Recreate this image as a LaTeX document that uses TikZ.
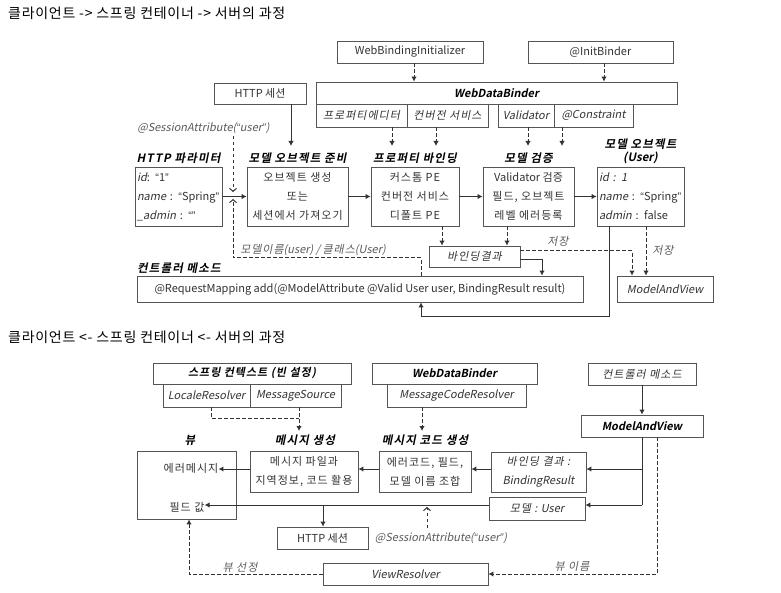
\documentclass[tikz,border=0pt]{standalone}
\usepackage{fontspec}
\setmainfont{Noto Sans CJK KR}[ItalicFont={Noto Sans CJK KR}, ItalicFeatures={FakeSlant=0.2}, BoldFont={Noto Sans CJK KR Bold}, BoldItalicFont={Noto Sans CJK KR Bold}, BoldItalicFeatures={FakeSlant=0.2}]
\newfontfamily\qf{Liberation Sans}
\newcommand\oq{{\qf “}}
\newcommand\cq{{\qf ”}}
\newcommand\ks{\addfontfeature{LetterSpace=9}}
\usetikzlibrary{arrows.meta}
\definecolor{bx}{HTML}{555555}
\definecolor{tx}{HTML}{333333}
\definecolor{lb}{HTML}{5A5A5A}
\newcommand\bodyf{\fontsize{11}{19}\selectfont}
\tikzset{
 box/.style={draw=bx, line width=0.8pt, fill=white, inner sep=0pt, text=tx, font=\bodyf, align=center},
 krbox/.style={box, font=\bodyf\ks},
 itbox/.style={box, font=\bodyf\itshape},
 kritbox/.style={box, font=\bodyf\itshape\ks},
 bibox/.style={box, font=\bodyf\bfseries\itshape, text=black},
 lbl/.style={font=\fontsize{11.5}{19}\selectfont\bfseries\itshape\addfontfeature{LetterSpace=10}, text=black, inner sep=0pt},
 note/.style={font=\bodyf\itshape, text=lb, inner sep=0pt},
 krnote/.style={font=\bodyf\itshape\ks, text=lb, inner sep=0pt},
 plain/.style={font=\bodyf\ks, text=tx, inner sep=0pt},
 ttl/.style={font=\fontsize{14}{16}\selectfont\addfontfeature{LetterSpace=5}, text=black, inner sep=0pt, anchor=west},
 conn/.style={draw=tx, line width=1pt},
 arr/.style={conn, -{Latex[length=5pt,width=5.5pt]}},
 darr/.style={arr, dash pattern=on 3.5pt off 2.5pt},
 dline/.style={conn, dash pattern=on 3.5pt off 2.5pt},
 oarr/.style={conn, dash pattern=on 3.5pt off 2.5pt, -{Straight Barb[length=3pt,width=7pt]}},
}
\begin{document}
\begin{tikzpicture}[x=1pt,y=-1pt]
\useasboundingbox (0,0) rectangle (781,593);
% ---------- titles
\node[ttl] (t1) at (8,13) {클라이언트 -> 스프링 컨테이너 -> 서버의 과정};
\node[ttl] (t2) at (8,337) {클라이언트 <- 스프링 컨테이너 <- 서버의 과정};
% ---------- top diagram boxes
\node[box,minimum width=146pt,minimum height=22pt] (wbi) at (410,52) {WebBindingInitializer};
\node[box,minimum width=145pt,minimum height=22pt] (ib) at (600.5,52) {@InitBinder};
\node[bibox,minimum width=361pt,minimum height=22pt] (wdb) at (496.5,93) {WebDataBinder};
\node[kritbox,minimum width=91pt,minimum height=23pt] (pe) at (361.5,115.5) {프로퍼티에디터};
\node[kritbox,minimum width=81pt,minimum height=23pt] (cs) at (447.5,115.5) {컨버전 서비스};
\node[itbox,minimum width=56pt,minimum height=23pt] (val) at (526,115.5) {Validator};
\node[itbox,minimum width=79pt,minimum height=23pt] (cons) at (593.5,115.5) {@Constraint};
\node[box,minimum width=92pt,minimum height=21pt] (http1) at (260,93.5) {HTTP 세션};
\node[note] (sa1) at (203.5,128) {@SessionAttribute(\oq user\cq)};

\node[lbl] (lparam) at (178.5,158) {HTTP 파라미터};
\node[lbl] (lprep) at (297.5,158) {모델 오브젝트 준비};
\node[lbl] (lbind) at (415,158) {프로퍼티 바인딩};
\node[lbl] (lvalid) at (528.5,158) {모델 검증};
\node[lbl,align=center,font=\fontsize{11.5}{13}\selectfont\bfseries\itshape] (luser) at (640.5,151.5) {{\addfontfeature{LetterSpace=10}모델 오브젝트}\\(User)};

\node[box,minimum width=87pt,minimum height=59pt,align=left,text width=83pt] (param) at (178.5,196.5) {\textit{id}: \oq 1\cq\\\textit{name} : \oq Spring\cq\\\textit{\_admin} : \oq\cq};
\node[krbox,minimum width=101pt,minimum height=59pt] (prep) at (297.5,196.5) {오브젝트 생성\\또는\\세션에서 가져오기};
\node[krbox,minimum width=88pt,minimum height=59pt] (bind) at (415,196.5) {커스톰 PE\\컨버전 서비스\\디폴트 PE};
\node[box,minimum width=91pt,minimum height=59pt] (valid) at (528.5,196.5) {Validator 검증\\{\ks 필드, 오브젝트}\\{\ks 레벨 에러등록}};
\node[box,minimum width=87pt,minimum height=59pt,align=left,text width=83pt] (user) at (640.5,196.5) {\textit{id : 1}\\\textit{name} : \oq Spring\cq\\\textit{admin} : false};

\node[kritbox,minimum width=91pt,minimum height=21pt] (br) at (474.5,256.5) {바인딩결과};
\node[note] (mn) at (313,250) {{\ks 모델이름}(user) / {\ks 클래스}(User)};
\node[krnote] (st1) at (558,241) {저장};
\node[krnote] (st2) at (663,250) {저장};
\node[lbl,anchor=west] (lctrl) at (137,268) {컨트롤러 메소드};
\node[box,minimum width=446pt,minimum height=26pt] (ctrl) at (360,289) {@RequestMapping add(@ModelAttribute @Valid User user, BindingResult result)};
\node[itbox,minimum width=96pt,minimum height=26pt] (mav) at (665,289) {ModelAndView};

% ---------- top connectors
\draw[darr] (wbi.south -| 414,0) -- (wdb.north -| 414,0);
\draw[darr] (ib.south -| 604,0) -- (wdb.north -| 604,0);
\draw[darr] (pe.south -| 392,0) -- (392,146);
\draw[darr] (cs.south -| 436,0) -- (436,146);
\draw[darr] (val.south -| 528,0) -- (528,146);
\draw[darr] (cons.south -| 562,0) -- (562,146);
\draw[arr] (http1.south -| 291,0) -- (291,146);
\draw[oarr] (233,136) -- (233,192);
\draw[oarr] (ctrl.north -| 421,0) |- (233,258) -- (233,199);
\draw[arr] (param.east) -- (prep.west);
\draw[arr] (prep.east) -- (bind.west);
\draw[arr] (bind.east) -- (valid.west);
\draw[arr] (valid.east) -- (user.west);
\draw[darr] (bind.south -| 442,0) -- (br.north -| 442,0);
\draw[darr] (valid.south -| 507,0) -- (br.north -| 507,0);
\draw[arr] (br.east |- 0,260) -| (ctrl.north -| 542,0);
\draw[darr] (br.east |- 0,251) -| (mav.north -| 632,0);
\draw[darr] (user.south -| 646,0) -- (mav.north -| 646,0);
\draw[arr] (user.south -| 609,0) -- (609,317) -| (ctrl.south -| 421,0);

% ---------- bottom diagram boxes
\node[bibox,minimum width=198pt,minimum height=21pt,font=\bodyf\bfseries\itshape\ks] (ctx) at (252,373.5) {스프링 컨텍스트 (빈 설정)};
\node[itbox,minimum width=87pt,minimum height=23pt] (lr) at (206.5,395.5) {LocaleResolver};
\node[itbox,minimum width=91pt,minimum height=23pt] (ms) at (295.5,395.5) {MessageSource};
\node[bibox,minimum width=165pt,minimum height=21pt] (wdb2) at (454.5,373.5) {WebDataBinder};
\node[itbox,minimum width=139pt,minimum height=23pt] (mcr) at (456.5,395.5) {MessageCodeResolver};
\node[kritbox,minimum width=108pt,minimum height=22pt] (cm) at (642,374) {컨트롤러 메소드};
\node[bibox,minimum width=122pt,minimum height=22pt] (mav2) at (642,426) {ModelAndView};

\node[lbl] (lview) at (190,440) {뷰};
\node[lbl] (lmg) at (305,440) {메시지 생성};
\node[lbl] (lmcg) at (425,440) {메시지 코드 생성};

\node[itbox,minimum width=95pt,minimum height=40pt] (brs) at (538.5,472) {{\ks 바인딩 결과 :}\\BindingResult};
\node[itbox,minimum width=96pt,minimum height=23pt] (mu) at (537,508.5) {{\ks 모델 :} User};
\node[krbox,minimum width=92pt,minimum height=41pt] (mcg) at (425,471.5) {에러코드, 필드,\\모델 이름 조합};
\node[krbox,minimum width=108pt,minimum height=41pt] (mg) at (304,471.5) {메시지 파일과\\지역정보, 코드 활용};
\node[box,minimum width=99pt,minimum height=68pt] (view) at (186.5,485) {};
\node[plain] (em) at (191,468) {에러메시지};
\node[plain] (fv) at (187,507) {필드 값};
\node[box,minimum width=91pt,minimum height=22pt] (http2) at (322.5,538) {HTTP 세션};
\node[note] (sa2) at (441,538) {@SessionAttribute(\oq user\cq)};
\node[itbox,minimum width=165pt,minimum height=22pt] (vr) at (405.5,574) {ViewResolver};
\node[krnote] (vs) at (240,567) {뷰 선정};
\node[krnote] (vn) at (572,566) {뷰 이름};

% ---------- bottom connectors
\draw[dline] (lr.south -| 211,0) |- (299,418);
\draw[darr] (ms.south -| 299,0) -- (299,431);
\draw[darr] (mcr.south -| 422,0) -- (422,431);
\draw[arr] (cm.south) -- (mav2.north);
\draw[conn] (mav2.south) -- (642,505);
\draw[arr] (642,469) -- (brs.east |- 0,469);
\draw[arr] (642,505) -- (mu.east |- 0,505);
\draw[darr] (mav2.south -| 657,0) |- (vr.east);
\draw[arr] (brs.west |- 0,469) -- (mcg.east |- 0,469);
\draw[arr] (mcg.west |- 0,469) -- (mg.east |- 0,469);
\draw[arr] (mg.west |- 0,469) -- (em.east |- 0,469);
\draw[arr] (mu.west |- 0,505) -- (fv.east |- 0,505);
\draw[arr] (323,505) -- (http2.north -| 323,0);
\draw[oarr] (427,528) -- (427,507);
\draw[darr] (vr.west) -| (view.south -| 189,0);
\end{tikzpicture}
\end{document}
